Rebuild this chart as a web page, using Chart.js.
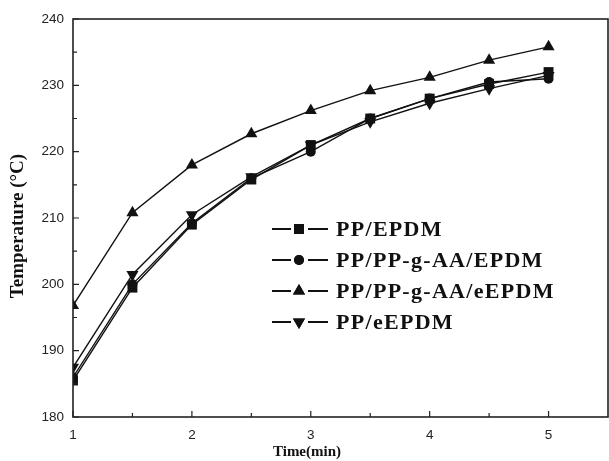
<!DOCTYPE html>
<html>
<head>
<meta charset="utf-8">
<script src="https://cdn.jsdelivr.net/npm/chart.js@4"></script>
<style>
  html, body { margin: 0; padding: 0; background: #fff; }
  #wrap { width: 609px; height: 461px; }
</style>
</head>
<body>
<div id="wrap"><canvas id="myChart" width="609" height="461"></canvas></div>
<script>
// time in minutes
const times = [1, 1.5, 2, 2.5, 3, 3.5, 4, 4.5, 5];
// temperature readings for each blend
const ppEpdm = [185.5, 199.5, 209, 215.8, 221, 225, 228, 230.2, 232];
const ppAaEpdm = [186, 200, 209.2, 216, 220, 225, 228, 230.5, 231];
const ppAaEEpdm = [196.8, 210.8, 218, 222.7, 226.2, 229.2, 231.2, 233.8, 235.8];
const ppEEpdm = [187.5, 201.5, 210.5, 216.2, 221, 224.5, 227.3, 229.5, 231.5];
const seriesNames = ['PP/EPDM', 'PP/PP-g-AA/EPDM', 'PP/PP-g-AA/eEPDM', 'PP/eEPDM'];
const yTicks = [180, 190, 200, 210, 220, 230, 240];
const xTicks = [1, 2, 3, 4, 5];
const xTitle = 'Time(min)';
const yTitle = 'Temperature (°C)';

function pts(vals) {
  return vals.map((v, i) => ({ x: times[i], y: v }));
}

function makeSet(label, vals, style, radius, rot) {
  return {
    label: label,
    data: pts(vals),
    borderColor: '#111',
    backgroundColor: '#111',
    borderWidth: 1.4,
    pointStyle: style,
    pointRadius: radius,
    pointRotation: rot,
    pointBorderWidth: 0,
    tension: 0
  };
}

// frame, inward ticks, axis titles and the legend (line + marker)
const framePlugin = {
  id: 'frame',
  afterDraw(chart) {
    const ctx = chart.ctx;
    const a = chart.chartArea;
    const xs = chart.scales.x, ys = chart.scales.y;
    ctx.save();
    ctx.strokeStyle = '#222';
    ctx.lineWidth = 1.6;
    ctx.strokeRect(a.left, a.top, a.right - a.left, a.bottom - a.top);
    ctx.lineWidth = 1.2;
    ctx.beginPath();
    for (let v = 180; v <= 240; v += 5) {
      const y = ys.getPixelForValue(v);
      const len = (v % 10 === 0) ? 6 : 4;
      ctx.moveTo(a.left, y); ctx.lineTo(a.left + len, y);
    }
    for (let v = 1; v <= 5.01; v += 0.5) {
      const x = xs.getPixelForValue(v);
      const len = (v % 1 === 0) ? 6 : 4;
      ctx.moveTo(x, a.bottom); ctx.lineTo(x, a.bottom - len);
    }
    ctx.stroke();

    // axis titles
    ctx.fillStyle = '#111';
    ctx.textAlign = 'center';
    ctx.textBaseline = 'middle';
    ctx.font = 'bold 15px "Liberation Serif"';
    ctx.fillText(xTitle, 307, 452);
    ctx.save();
    ctx.translate(18, 226);
    ctx.rotate(-Math.PI / 2);
    ctx.font = 'bold 19px "Liberation Serif"';
    ctx.fillText(yTitle, 0, 0);
    ctx.restore();

    // legend
    const lx = 272, ly = 229, gap = 31;
    ctx.textAlign = 'left';
    ctx.font = 'bold 22px "Liberation Serif"';
    ctx.letterSpacing = '1.3px';
    chart.data.datasets.forEach((ds, i) => {
      const y = ly + i * gap;
      ctx.strokeStyle = '#111';
      ctx.lineWidth = 1.8;
      ctx.beginPath();
      ctx.moveTo(lx, y); ctx.lineTo(lx + 19, y);
      ctx.moveTo(lx + 36, y); ctx.lineTo(lx + 56, y);
      ctx.stroke();
      Chart.helpers.drawPoint(ctx, {
        pointStyle: ds.pointStyle, radius: ds.pointRadius, rotation: ds.pointRotation, borderWidth: 0
      }, lx + 27, y);
      ctx.fill();
      ctx.fillText(ds.label, lx + 64, y + 1);
    });
    ctx.restore();
  }
};

document.addEventListener('DOMContentLoaded', function() {
  const ctx = document.getElementById('myChart').getContext('2d');
  new Chart(ctx, {
    type: 'line',
    data: {
      datasets: [
        makeSet(seriesNames[0], ppEpdm, 'rect', 7, 0),
        makeSet(seriesNames[1], ppAaEpdm, 'circle', 5, 0),
        makeSet(seriesNames[2], ppAaEEpdm, 'triangle', 7, 0),
        makeSet(seriesNames[3], ppEEpdm, 'triangle', 7, 180)
      ]
    },
    options: {
      responsive: false,
      animation: false,
      layout: { autoPadding: false, padding: { top: 19, right: 1, left: 0, bottom: 0 } },
      plugins: { legend: { display: false }, tooltip: { enabled: false } },
      scales: {
        x: {
          type: 'linear',
          min: 1, max: 5.5,
          afterBuildTicks: s => { s.ticks = xTicks.map(v => ({ value: v })); },
          afterFit: s => { s.height = 44; s.paddingLeft = 0; s.paddingRight = 0; },
          grid: { display: false, drawTicks: false },
          border: { display: false },
          ticks: { color: '#222', padding: 10, font: { family: 'Liberation Sans', size: 13.5 } }
        },
        y: {
          min: 180, max: 240,
          afterBuildTicks: s => { s.ticks = yTicks.map(v => ({ value: v })); },
          afterFit: s => { s.width = 73; },
          grid: { display: false, drawTicks: false },
          border: { display: false },
          ticks: { color: '#222', padding: 9, font: { family: 'Liberation Sans', size: 13.5 } }
        }
      }
    },
    plugins: [framePlugin]
  });
});
</script>
</body>
</html>
